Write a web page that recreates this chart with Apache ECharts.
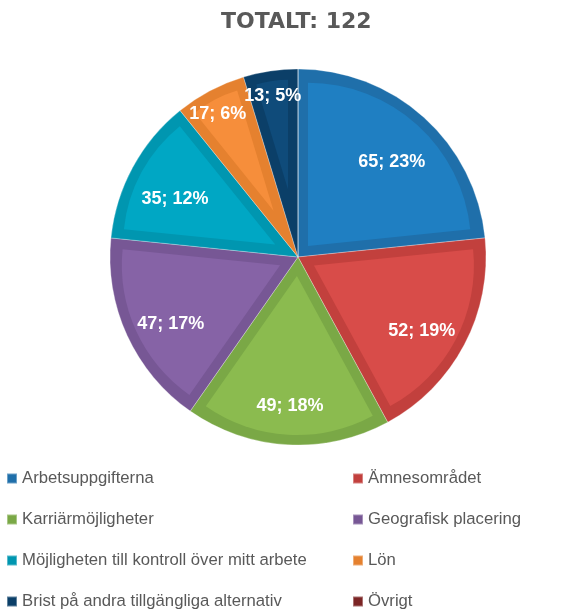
<!DOCTYPE html>
<html>
<head>
<meta charset="utf-8">
<script src="https://cdn.jsdelivr.net/npm/echarts@6/dist/echarts.min.js"></script>
<style>
html,body{margin:0;padding:0;background:#fff;}
#chart{width:580px;height:610px;}
</style>
</head>
<body>
<div id="chart"></div>
<script>
// ---- data ----
const titleText = 'TOTALT: 122';
const categories = [
  'Arbetsuppgifterna',
  'Ämnesområdet',
  'Karriärmöjligheter',
  'Geografisk placering',
  'Möjligheten till kontroll över mitt arbete',
  'Lön',
  'Brist på andra tillgängliga alternativ',
  'Övrigt'
];
const counts = [65, 52, 49, 47, 35, 17, 13, 0];

// ---- styles ----
const darkColors  = ['#1F6FAA', '#C2403D', '#7AA846', '#775795', '#0096B0', '#E5812F', '#0B3F68', '#7B2525'];
const lightColors = ['#1F7FC2', '#D84C49', '#8BBB4F', '#8663A6', '#00A7C4', '#F68E3B', '#0F4B7A', '#8A2A2A'];
const CX = 298, CY = 257, R = 188, BAND = 10;
const LABEL_DROP = 9;
const total = counts.reduce((a, b) => a + b, 0);
const FONT = 'Liberation Sans, Arial, sans-serif';
const SMALL_SHARE = 8; // percent below which a label sits further out

const series = [];
// dark base pie (outer band colour)
series.push({
  type: 'pie', center: [CX, CY], radius: [0, R], startAngle: 90, clockwise: true,
  data: categories.map((n, i) => ({ name: n, value: counts[i], itemStyle: { color: darkColors[i] } })),
  label: { show: false }, labelLine: { show: false },
  silent: true, emphasis: { disabled: true },
  itemStyle: { borderWidth: 0.8, borderColor: 'rgba(255,255,255,0.35)' }
});
// lighter inset piece of each slice: same wedge, pushed out along its bisector
counts.forEach((v, k) => {
  if (v <= 0) return;
  const theta = v / total * Math.PI * 2;
  const shift = BAND / Math.sin(theta / 2);
  series.push({
    type: 'pie', center: [CX, CY], radius: [0, R - BAND - shift], startAngle: 90, clockwise: true,
    selectedMode: 'multiple', selectedOffset: shift,
    data: categories.map((n, i) => {
      const c = i === k ? lightColors[i] : 'rgba(0,0,0,0)';
      return { name: n, value: counts[i], selected: i === k,
               itemStyle: { color: c }, select: { itemStyle: { color: c, borderWidth: 0 } } };
    }),
    label: { show: false }, labelLine: { show: false },
    silent: true, emphasis: { disabled: true }, itemStyle: { borderWidth: 0 }
  });
});
// label carriers (invisible sectors)
function labelSeries(radius, test) {
  return {
    type: 'pie', center: [CX, CY + LABEL_DROP], radius: radius, startAngle: 90, clockwise: true,
    percentPrecision: 0, avoidLabelOverlap: false,
    data: categories.map((n, i) => ({ name: n, value: counts[i] })),
    itemStyle: { color: 'rgba(0,0,0,0)', borderWidth: 0 },
    silent: true, emphasis: { disabled: true }, labelLine: { show: false },
    label: {
      show: true, position: 'inside', color: '#ffffff',
      fontFamily: FONT, fontWeight: 'bold', fontSize: 18,
      formatter: p => (p.value > 0 && test(p.value / total * 100) ? p.value + '; ' + p.percent + '%' : '')
    }
  };
}
series.push(labelSeries([86, R], s => s >= SMALL_SHARE));
series.push(labelSeries([150, R], s => s < SMALL_SHARE));

const legendCommon = {
  orient: 'vertical', top: 470, height: 150, padding: 0, itemGap: 24, itemWidth: 10, itemHeight: 10, icon: 'rect',
  selectedMode: false,
  textStyle: { color: '#595959', fontSize: 16.7, lineHeight: 17, fontFamily: FONT }
};

const option = {
  animation: false,
  backgroundColor: '#ffffff',
  title: {
    text: titleText, left: 216, top: 6,
    textStyle: { color: '#595959', fontSize: 22, fontWeight: 'bold', fontFamily: 'DejaVu Sans, sans-serif' }
  },
  legend: [
    Object.assign({}, legendCommon, { left: 6, data: categories.filter((c, i) => i % 2 === 0) }),
    Object.assign({}, legendCommon, { left: 352, data: categories.filter((c, i) => i % 2 === 1) })
  ],
  series: series
};

const chart = echarts.init(document.getElementById('chart'), null, { renderer: 'canvas' });
chart.setOption(option);
</script>
</body>
</html>
